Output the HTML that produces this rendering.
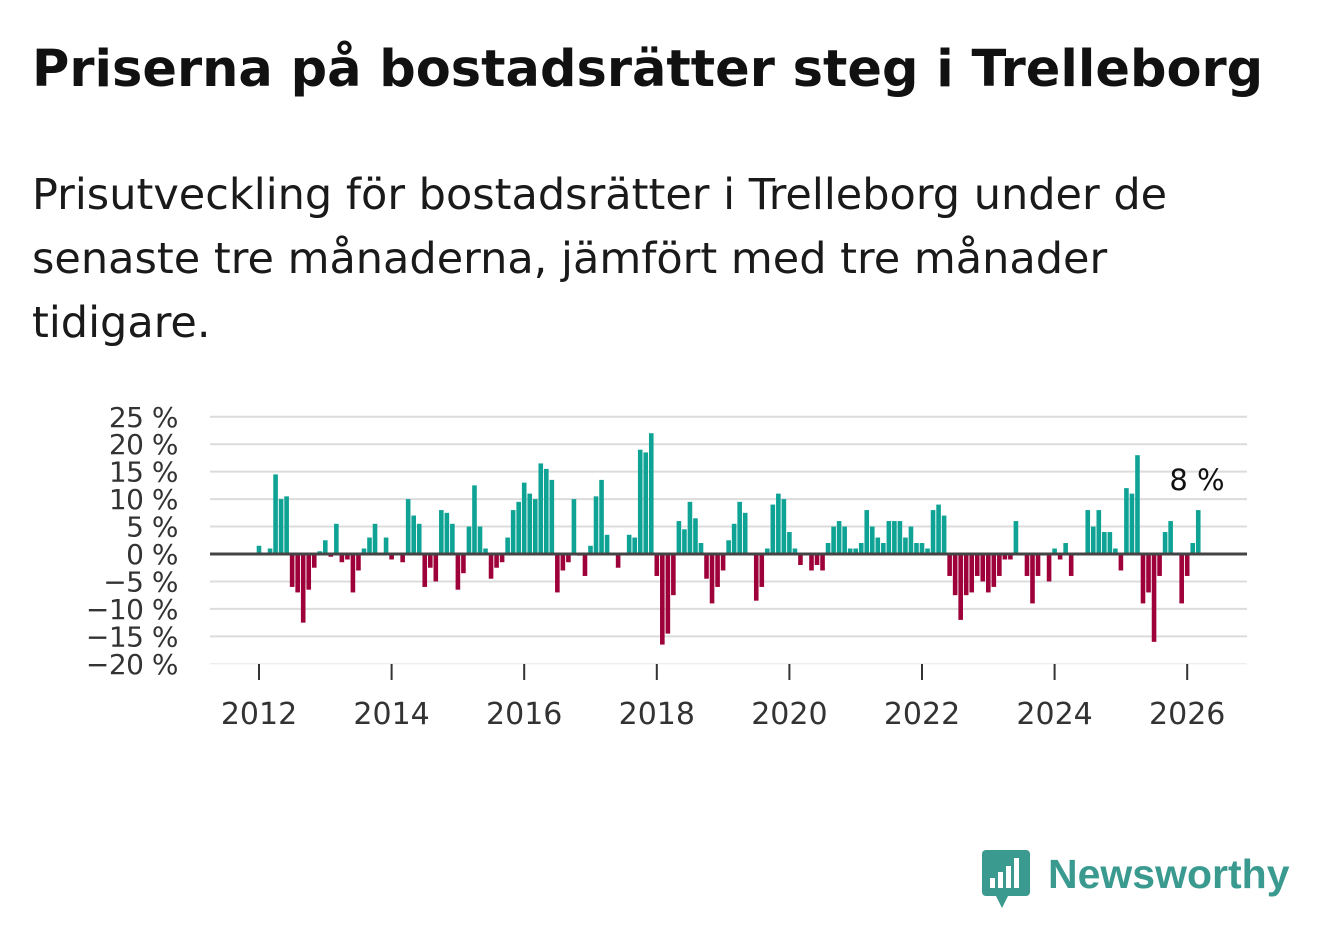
<!DOCTYPE html>
<html><head><meta charset="utf-8"><style>
body{margin:0;background:#fff;width:1322px;height:939px;overflow:hidden;font-family:"DejaVu Sans",sans-serif;color:#111}
#title{position:absolute;left:32px;top:40px;font-size:51px;font-weight:bold;margin:0;white-space:nowrap;letter-spacing:0}
#sub{position:absolute;left:32px;top:163px;font-size:43px;line-height:64px;width:1200px;color:#1a1a1a;letter-spacing:0}
svg{position:absolute;left:0;top:0}
</style></head><body>
<h1 id="title">Priserna på bostadsrätter steg i Trelleborg</h1>
<div id="sub">Prisutveckling för bostadsrätter i Trelleborg under de senaste tre månaderna, jämfört med tre månader tidigare.</div>
<svg id="chart" width="1322" height="939"></svg>
<div style="position:absolute;left:982px;top:850px;display:flex;align-items:center">
<svg width="48" height="58" style="position:static"><rect x="0" y="0" width="48" height="46" rx="4" fill="#3a9a8f"/><polygon points="14,46 26,46 20,58" fill="#3a9a8f"/><rect x="8" y="28" width="5" height="10" fill="#fff"/><rect x="16" y="22" width="5" height="16" fill="#fff"/><rect x="24" y="16" width="5" height="22" fill="#fff"/><rect x="32" y="8" width="5" height="30" fill="#fff"/></svg>
<span style="font-family:'Liberation Sans',sans-serif;font-size:41px;font-weight:bold;color:#3a9a8f;margin-left:18px;margin-top:-10px">Newsworthy</span></div>
<script>
const years=[2012,2014,2016,2018,2020,2022,2024,2026];
const yTicks=[25,20,15,10,5,0,-5,-10,-15,-20];
const values=[1.5,0,1,14.5,10,10.5,-6,-7,-12.5,-6.5,-2.5,0.5,2.5,-0.5,5.5,-1.5,-1,-7,-3,1,3,5.5,0,3,-1,0,-1.5,10,7,5.5,-6,-2.5,-5,8,7.5,5.5,-6.5,-3.5,5,12.5,5,1,-4.5,-2.5,-1.5,3,8,9.5,13,11,10,16.5,15.5,13.5,-7,-3,-1.5,10,-0.3,-4,1.5,10.5,13.5,3.5,0,-2.5,0,3.5,3,19,18.5,22,-4,-16.5,-14.5,-7.5,6,4.5,9.5,6.5,2,-4.5,-9,-6,-3,2.5,5.5,9.5,7.5,0,-8.5,-6,1,9,11,10,4,1,-2,0,-3,-2,-3,2,5,6,5,1,1,2,8,5,3,2,6,6,6,3,5,2,2,1,8,9,7,-4,-7.5,-12,-7.5,-7,-4,-5,-7,-6,-4,-1,-1,6,0,-4,-9,-4,0,-5,1,-1,2,-4,0,0,8,5,8,4,4,1,-3,12,11,18,-9,-7,-16,-4,4,6,0,-9,-4,2,8];
const NS="http://www.w3.org/2000/svg",svg=document.getElementById('chart');
const X=t=>259+(t-2012)*66.3;
const Y=v=>554-v*5.49;
const FONT='DejaVu Sans, sans-serif';
function mk(tag,attrs){const e=document.createElementNS(NS,tag);for(const k in attrs)e.setAttribute(k,attrs[k]);svg.appendChild(e);return e;}
yTicks.forEach(v=>{
 const l=mk('line',{x1:210,x2:1247,y1:Y(v),y2:Y(v),stroke:v===-20?'#e8e8e8':'#dcdcdc','stroke-width':v===-20?1:2});
 
 
 const t=mk('text',{x:178,y:Y(v)+10,'text-anchor':'end','font-size':28,fill:'#333','font-family':FONT,'letter-spacing':'-0.5'});
 t.textContent=(v<0?'−'+(-v):v)+' %';
 
 
});
years.forEach(y=>{
 const l=mk('line',{x1:X(y),x2:X(y),y1:664,y2:680,stroke:'#333','stroke-width':2});
 
 
 const t=mk('text',{x:X(y),y:724,'text-anchor':'middle','font-size':30,fill:'#333','font-family':FONT});
 t.textContent=y;
 
 
});
values.forEach((v,i)=>{
 const cx=X(2012+i/12);
 const r=mk('rect',{x:cx-2.3,width:4.6,y:Math.min(Y(v),Y(0)),height:Math.abs(Y(v)-Y(0)),fill:v>=0?'#0fa395':'#9e0039'});
 
 
});
const z=mk('line',{x1:210,x2:1247,y1:Y(0),y2:Y(0),stroke:'#444','stroke-width':3});


const last=values[values.length-1];
const a=mk('text',{x:1197,y:490,'text-anchor':'middle','font-size':29,fill:'#111','font-family':FONT});
a.textContent=Math.round(last)+' %';


</script>
</body></html>
